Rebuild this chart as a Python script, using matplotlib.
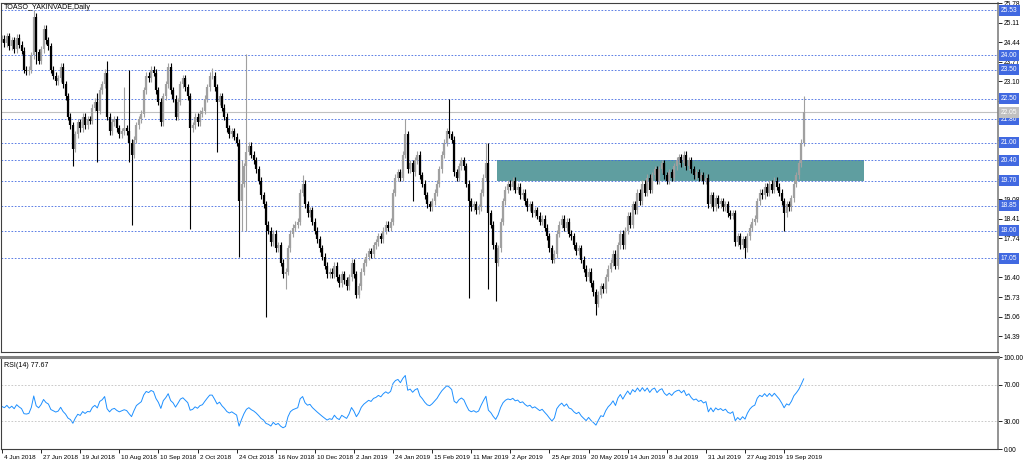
import numpy as np
import pandas as pd
import matplotlib
matplotlib.use('Agg')
from matplotlib import pyplot as plt
from matplotlib import transforms

# daily closes, 4 Jun 2018 .. early Oct 2019
close = [
    24.55, 24.40, 24.65, 24.30, 24.50, 24.20, 24.60, 24.35, 24.15, 23.50,
    23.45, 23.50, 24.00, 25.30, 24.10, 23.80, 24.20, 24.90, 24.50, 24.30,
    23.50, 23.30, 23.10, 23.20, 23.60, 23.00, 22.60, 21.90, 21.60, 20.80,
    21.30, 21.70, 21.50, 21.90, 21.60, 21.80, 21.75, 22.20, 22.40, 22.10,
    22.80, 23.00, 23.40, 21.90, 21.40, 21.70, 21.80, 21.50, 21.30, 21.40,
    21.50, 21.40, 21.00, 20.60, 21.10, 21.60, 21.80, 22.00, 22.80, 23.30,
    23.20, 23.50, 23.40, 22.80, 22.40, 21.70, 22.60, 23.00, 23.60, 22.80,
    22.50, 21.90, 22.40, 23.00, 23.20, 22.90, 22.60, 21.50, 21.60, 21.90,
    21.70, 22.00, 22.10, 22.50, 22.90, 23.30, 23.30, 22.90, 22.40, 22.60,
    22.20, 21.90, 21.50, 21.30, 21.40, 21.20, 21.00, 19.00, 19.60, 20.20,
    20.70, 20.90, 20.60, 20.40, 20.10, 19.70, 19.20, 18.90, 18.20, 18.00,
    17.60, 17.90, 17.40, 17.50, 16.90, 16.50, 16.60, 17.40, 17.90, 18.10,
    18.20, 18.30, 19.30, 19.60, 18.90, 18.60, 18.70, 18.30, 18.00, 17.70,
    17.40, 17.10, 16.80, 16.50, 16.60, 16.50, 16.80, 16.40, 16.20, 16.50,
    16.30, 16.10, 16.40, 16.90, 16.50, 15.80, 16.10, 16.60, 16.90, 17.10,
    17.30, 17.20, 17.50, 17.60, 17.80, 17.70, 18.00, 18.20, 18.10, 18.30,
    19.30, 19.80, 20.00, 19.80, 20.60, 21.30, 20.10, 20.30, 20.00, 20.40,
    20.60, 19.90, 19.60, 19.20, 18.90, 18.80, 19.00, 19.30, 19.60, 20.10,
    20.60, 21.00, 21.40, 21.30, 21.10, 20.00, 19.80, 20.20, 20.40, 20.20,
    19.60, 19.00, 18.80, 18.90, 18.70, 18.80, 19.30, 19.80, 20.30, 18.60,
    18.20, 17.50, 16.90, 17.40, 18.30, 19.00, 19.40, 19.60, 19.50, 19.70,
    19.40, 19.50, 19.20, 19.30, 19.00, 18.80, 18.90, 18.60, 18.70, 18.50,
    18.30, 18.40, 18.10, 17.80, 17.40, 17.00, 17.20, 17.90, 18.20, 18.40,
    18.10, 18.30, 17.90, 17.80, 17.50, 17.30, 17.40, 17.00, 16.70, 16.40,
    16.60, 16.20, 15.90, 15.50, 15.80, 16.10, 16.00, 16.40, 16.70, 16.90,
    17.20, 16.80, 17.50, 17.90, 17.50, 18.00, 18.50, 18.20, 18.90, 18.70,
    19.30, 19.00, 19.60, 19.30, 19.80, 19.40, 19.90, 20.10, 19.70, 20.10,
    20.30, 19.90, 19.70, 20.00, 19.80, 20.20, 20.40, 20.50, 20.30, 20.60,
    20.20, 20.40, 20.10, 19.90, 20.00, 19.80, 19.90, 19.70, 19.80, 18.90,
    19.20, 18.80, 19.10, 18.90, 19.00, 18.80, 18.90, 18.60, 18.50, 18.60,
    17.60, 17.80, 17.50, 17.70, 17.40, 17.80, 18.10, 18.30, 18.40, 19.00,
    19.30, 19.20, 19.50, 19.30, 19.60, 19.40, 19.70, 19.50, 19.30, 19.00,
    18.60, 18.90, 18.80, 19.10, 19.60, 19.90, 20.30, 21.00, 22.05,
]

# long shadows (bar index -> price)
high_spikes = {13: 25.55, 14: 25.45, 17: 25.0, 39: 22.7, 43: 23.8, 50: 22.9,
               52: 23.5, 86: 23.55, 98: 20.4, 100: 24.05, 123: 19.9,
               165: 21.8, 183: 22.5, 198: 21.0, 199: 21.0, 328: 22.6}
low_spikes = {14: 23.7, 29: 20.2, 39: 20.35, 52: 20.35, 53: 18.2, 77: 18.05,
              88: 20.7, 97: 17.1, 98: 18.0, 100: 18.0, 108: 15.05, 116: 16.0,
              145: 15.7, 168: 19.0, 191: 15.7, 199: 16.0, 202: 15.6,
              243: 15.1, 304: 17.05, 320: 18.0}

levels = [25.53, 24.00, 23.50, 22.50, 21.80, 21.00, 20.40, 19.70, 18.85, 18.00, 17.05]
last_price = 22.05
rsi_last = 77.67
zone_top, zone_bottom = 20.40, 19.70
zone_start, zone_end = 202.5, 352.7

price_ticks = [25.78, 25.11, 24.44, 23.77, 23.10, 22.43, 21.76, 21.09, 20.42,
               19.75, 19.08, 18.41, 17.74, 17.07, 16.40, 15.73, 15.06, 14.39]
hidden_ticks = [22.43, 21.76, 21.09, 20.42, 19.75, 17.07]  # covered by level labels
date_labels = ['4 Jun 2018', '27 Jun 2018', '19 Jul 2018', '10 Aug 2018', '10 Sep 2018',
               '2 Oct 2018', '24 Oct 2018', '16 Nov 2018', '10 Dec 2018', '2 Jan 2019',
               '24 Jan 2019', '15 Feb 2019', '11 Mar 2019', '2 Apr 2019', '25 Apr 2019',
               '20 May 2019', '14 Jun 2019', '8 Jul 2019', '31 Jul 2019', '27 Aug 2019',
               '19 Sep 2019']

n = len(close)
x = np.arange(n)
c = np.array(close)
o = np.r_[c[0], c[:-1]]
h = np.maximum(o, c) + 0.12
l = np.minimum(o, c) - 0.12
for k, v in high_spikes.items():
    h[k] = max(v, h[k])
for k, v in low_spikes.items():
    l[k] = min(v, l[k])

# RSI(14), Wilder smoothing; start averages from the first 14 moves
d = np.diff(c)
avg_g = np.clip(d[:14], 0, None).mean()
avg_l = np.clip(-d[:14], 0, None).mean()
rsi = [100 - 100 / (1 + avg_g / avg_l)]
for dd in d:
    avg_g = (avg_g * 13 + max(dd, 0)) / 14
    avg_l = (avg_l * 13 + max(-dd, 0)) / 14
    rsi.append(100 - 100 / (1 + avg_g / avg_l))
rsi = np.array(rsi)

plt.rcParams['font.family'] = ['Liberation Sans', 'DejaVu Sans']
fs = 4.8
fig = plt.figure(figsize=(10.24, 4.62), dpi=100)
W, H = 1024.0, 462.0
ax = fig.add_axes([1/W, 1 - 352/H, 997/W, 349/H])
ax2 = fig.add_axes([1/W, 1 - 449/H, 997/W, 92/H], sharex=ax)

bull = c >= o
bull_col = '#a0a0a0'
for m, col in [(bull, bull_col), (~bull, 'black')]:
    ax.vlines(x[m], l[m], h[m], color=col, lw=0.8, zorder=4)
    ax.vlines(x[m], np.minimum(o, c)[m], np.maximum(o, c)[m], color=col, lw=1.6, zorder=4)

for lv in levels:
    ax.axhline(lv, color='#4169e1', lw=0.6, ls=(0, (2, 2)), zorder=2)
ax.axhline(last_price, color='#c0c0c0', lw=0.8, zorder=2)
ax.add_patch(plt.Rectangle((zone_start, zone_bottom), zone_end - zone_start,
                           zone_top - zone_bottom, color='#5f9ea0', lw=0, zorder=1))

ax.set_xlim(-0.4, 407.5)
ax.set_ylim(13.85, 25.76)
ax.yaxis.tick_right()
ax.set_yticks(price_ticks)
ax.set_yticklabels(['' if t in hidden_ticks else f'{t:.2f}' for t in price_ticks])
ax.tick_params(axis='y', labelsize=fs, length=3, pad=1, width=0.6)
ax.tick_params(axis='x', bottom=False, labelbottom=False)

yt = transforms.blended_transform_factory(ax.transAxes, ax.transData)
for lv in levels:
    ax.text(1.003, lv, f'{lv:.2f}', transform=yt, ha='left', va='center', fontsize=fs,
            color='white', zorder=10, clip_on=False,
            bbox=dict(boxstyle='square,pad=0.3', fc='#4169e1', ec='none'))
ax.text(1.003, last_price, f'{last_price:.2f}', transform=yt, ha='left', va='center',
        fontsize=fs, color='white', zorder=10, clip_on=False,
        bbox=dict(boxstyle='square,pad=0.3', fc='#c0c0c0', ec='none'))
ax.text(0.003, 0.997, 'TOASO_YAKINVADE,Daily', transform=ax.transAxes, ha='left', va='top',
        fontsize=fs + 0.3)

# RSI panel
ax2.plot(x, rsi, color='#1e90ff', lw=0.7)
for lv in (30, 70):
    ax2.axhline(lv, color='#c0c0c0', lw=0.6, ls=(0, (2, 2)))
ax2.set_ylim(0, 100)
ax2.yaxis.tick_right()
ax2.set_yticks([0, 30, 70, 100])
ax2.set_yticklabels(['0.00', '30.00', '70.00', '100.00'])
ax2.tick_params(axis='y', labelsize=fs, length=3, pad=1, width=0.6)
ax2.text(0.003, 0.95, f'RSI(14) {rsi_last:.2f}', transform=ax2.transAxes,
         ha='left', va='top', fontsize=fs + 0.3)

ax2.set_xticks(np.arange(len(date_labels)) * 16)
ax2.set_xticklabels(date_labels)
ax2.tick_params(axis='x', labelsize=4.6, length=3, pad=1, width=0.6)
offset = transforms.ScaledTranslation(1.5/72, 0, fig.dpi_scale_trans)
for lb in ax2.get_xticklabels():
    lb.set_ha('left')
    lb.set_transform(lb.get_transform() + offset)

for a in (ax, ax2):
    for s in a.spines.values():
        s.set_linewidth(0.8)
        s.set_color('#404040')
    a.spines['right'].set_color('#808080')
    a.spines['right'].set_linewidth(1.2)
ax2.spines['top'].set_linewidth(2.2)
ax2.spines['top'].set_color('#808080')

fig.savefig('out.png', dpi=100)
